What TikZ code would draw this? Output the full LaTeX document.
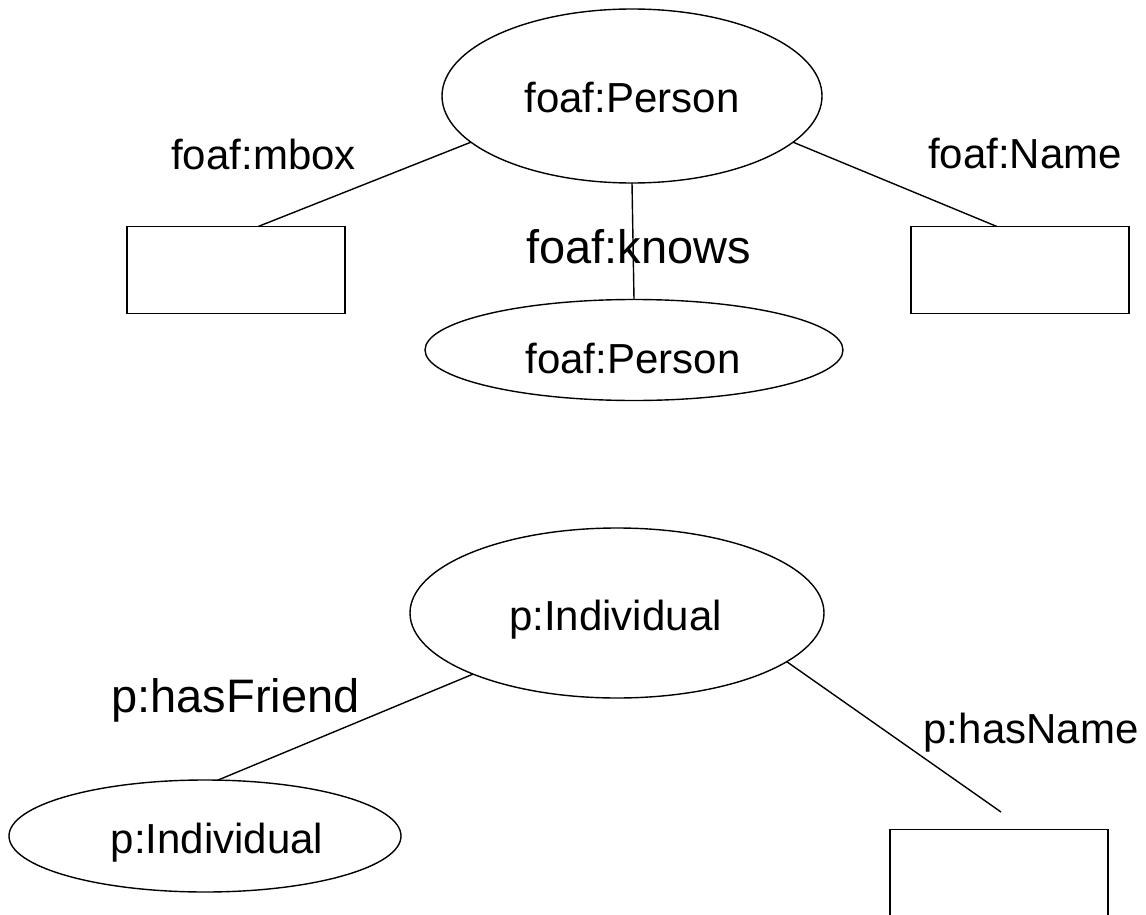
\documentclass[tikz,border=0pt]{standalone}
\usepackage{fontspec}
\setmainfont{Liberation Sans}
\usetikzlibrary{shapes.geometric,calc}
\begin{document}
\begin{tikzpicture}[x=1pt,y=-1pt,
  cls/.style={ellipse,draw,line width=1.4pt,inner sep=0pt,outer sep=0pt},
  lit/.style={rectangle,draw,line width=1.6pt,inner sep=0pt,outer sep=0pt,minimum width=218pt,minimum height=87pt},
  txt/.style={inner sep=0pt,anchor=base,font=\fontsize{42}{48}\selectfont},
  bigtxt/.style={inner sep=0pt,anchor=base,font=\fontsize{47}{54}\selectfont},
  edge/.style={line width=1.4pt}]
\useasboundingbox (0,0) rectangle (1146,915);
\clip (0,0) rectangle (1146,915);
% upper graph
\node[cls,minimum width=380pt,minimum height=174pt] (fp) at (632,96) {};
\node[txt] (fpt) at (632,113) {foaf:Person};
\node[cls,minimum width=418pt,minimum height=101pt] (fp2) at (634,350) {};
\node[txt] (fp2t) at (633,373) {foaf:Person};
\node[lit] (mbox) at (236,270) {};
\node[lit] (name) at (1020,270) {};
\node[txt] (lmbox) at (263.5,169) {foaf:mbox};
\node[txt] (lname) at (1025,168) {foaf:Name};
\node[bigtxt] (lknows) at (638.5,263) {foaf:knows};
\draw[edge] (fp.196) -- (mbox.63);
\draw[edge] (fp.344) -- (name.118);
\draw[edge] (fp.south) -- (fp2.north);
% lower graph
\node[cls,minimum width=414pt,minimum height=170pt] (pi) at (617,613) {};
\node[txt] (pit) at (615.5,630) {p:Individual};
\node[cls,minimum width=392pt,minimum height=112pt] (pi2) at (205,836) {};
\node[txt] (pi2t) at (217,853) {p:Individual};
\node[lit] (hn) at (999,873) {};
\coordinate (hnend) at (1001,812);
\node[bigtxt] (lfriend) at (235.5,712) {p:hasFriend};
\node[txt] (lhname) at (1031,743) {p:hasName};
\draw[edge] (pi.203) -- (pi2.77);
\draw[edge] (pi.344.5) -- (hnend);
\end{tikzpicture}
\end{document}
